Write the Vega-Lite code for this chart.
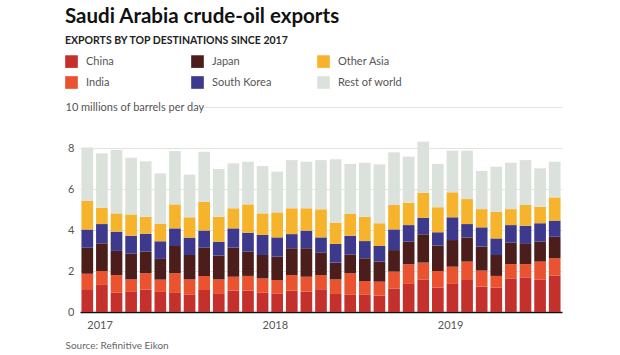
{
  "$schema": "https://vega.github.io/schema/vega-lite/v6.json",
  "width": 482,
  "height": 205,
  "autosize": {"type": "none"},
  "padding": {"left": 80, "top": 107, "right": 58, "bottom": 43},
  "background": "white",
  "title": {
    "text": "Saudi Arabia crude-oil exports",
    "subtitle": "EXPORTS BY TOP DESTINATIONS SINCE 2017",
    "anchor": "start",
    "frame": "group",
    "dx": -15,
    "offset": 9,
    "font": "Lato",
    "fontSize": 20.5,
    "fontWeight": "bold",
    "color": "#111",
    "subtitleFont": "Lato",
    "subtitleFontSize": 10.5,
    "subtitleFontWeight": "bold",
    "subtitleColor": "#222",
    "subtitlePadding": 8
  },
  "data": {
    "values": [
      {"m": "2017-01", "China": 1.07, "India": 0.80, "Japan": 1.27, "South Korea": 0.89, "Other Asia": 1.38, "Rest of world": 2.62},
      {"m": "2017-02", "China": 1.32, "India": 0.68, "Japan": 1.35, "South Korea": 0.94, "Other Asia": 0.80, "Rest of world": 2.65},
      {"m": "2017-03", "China": 0.94, "India": 0.86, "Japan": 1.18, "South Korea": 0.94, "Other Asia": 0.89, "Rest of world": 3.09},
      {"m": "2017-04", "China": 0.98, "India": 0.61, "Japan": 1.27, "South Korea": 0.86, "Other Asia": 1.04, "Rest of world": 2.77},
      {"m": "2017-05", "China": 1.09, "India": 0.80, "Japan": 1.05, "South Korea": 0.88, "Other Asia": 0.83, "Rest of world": 2.70},
      {"m": "2017-06", "China": 0.98, "India": 0.60, "Japan": 1.01, "South Korea": 0.86, "Other Asia": 0.86, "Rest of world": 2.45},
      {"m": "2017-07", "China": 0.93, "India": 0.96, "Japan": 1.33, "South Korea": 0.86, "Other Asia": 1.17, "Rest of world": 2.60},
      {"m": "2017-08", "China": 0.86, "India": 0.73, "Japan": 1.19, "South Korea": 0.85, "Other Asia": 0.99, "Rest of world": 2.08},
      {"m": "2017-09", "China": 1.07, "India": 0.69, "Japan": 1.38, "South Korea": 0.83, "Other Asia": 1.41, "Rest of world": 2.44},
      {"m": "2017-10", "China": 0.88, "India": 0.71, "Japan": 1.16, "South Korea": 0.68, "Other Asia": 1.22, "Rest of world": 2.33},
      {"m": "2017-11", "China": 1.04, "India": 0.68, "Japan": 1.42, "South Korea": 0.94, "Other Asia": 0.98, "Rest of world": 2.19},
      {"m": "2017-12", "China": 1.04, "India": 0.72, "Japan": 1.18, "South Korea": 0.93, "Other Asia": 1.38, "Rest of world": 2.08},
      {"m": "2018-01", "China": 0.94, "India": 0.70, "Japan": 1.14, "South Korea": 0.98, "Other Asia": 1.05, "Rest of world": 2.31},
      {"m": "2018-02", "China": 0.91, "India": 0.65, "Japan": 1.14, "South Korea": 0.94, "Other Asia": 1.22, "Rest of world": 1.99},
      {"m": "2018-03", "China": 1.04, "India": 0.76, "Japan": 1.31, "South Korea": 0.69, "Other Asia": 1.26, "Rest of world": 2.35},
      {"m": "2018-04", "China": 0.99, "India": 0.73, "Japan": 1.39, "South Korea": 0.86, "Other Asia": 1.09, "Rest of world": 2.27},
      {"m": "2018-05", "China": 1.11, "India": 0.69, "Japan": 1.09, "South Korea": 0.75, "Other Asia": 1.37, "Rest of world": 2.40},
      {"m": "2018-06", "China": 0.88, "India": 0.71, "Japan": 0.82, "South Korea": 0.91, "Other Asia": 1.04, "Rest of world": 3.09},
      {"m": "2018-07", "China": 0.86, "India": 1.03, "Japan": 0.92, "South Korea": 0.91, "Other Asia": 1.06, "Rest of world": 2.44},
      {"m": "2018-08", "China": 0.86, "India": 0.65, "Japan": 1.11, "South Korea": 0.84, "Other Asia": 1.19, "Rest of world": 2.63},
      {"m": "2018-09", "China": 0.80, "India": 0.68, "Japan": 0.98, "South Korea": 0.76, "Other Asia": 1.11, "Rest of world": 2.87},
      {"m": "2018-10", "China": 1.15, "India": 0.82, "Japan": 1.05, "South Korea": 1.01, "Other Asia": 1.19, "Rest of world": 2.57},
      {"m": "2018-11", "China": 1.37, "India": 0.96, "Japan": 1.10, "South Korea": 0.81, "Other Asia": 1.09, "Rest of world": 2.25},
      {"m": "2018-12", "China": 1.59, "India": 0.82, "Japan": 1.38, "South Korea": 0.81, "Other Asia": 1.22, "Rest of world": 2.49},
      {"m": "2019-01", "China": 1.19, "India": 0.81, "Japan": 1.24, "South Korea": 0.65, "Other Asia": 1.22, "Rest of world": 2.11},
      {"m": "2019-02", "China": 1.37, "India": 0.84, "Japan": 1.30, "South Korea": 1.11, "Other Asia": 1.22, "Rest of world": 2.03},
      {"m": "2019-03", "China": 1.56, "India": 0.90, "Japan": 1.17, "South Korea": 0.66, "Other Asia": 1.22, "Rest of world": 2.36},
      {"m": "2019-04", "China": 1.24, "India": 0.78, "Japan": 1.17, "South Korea": 0.94, "Other Asia": 0.89, "Rest of world": 1.86},
      {"m": "2019-05", "China": 1.19, "India": 0.57, "Japan": 1.02, "South Korea": 0.81, "Other Asia": 1.30, "Rest of world": 2.20},
      {"m": "2019-06", "China": 1.64, "India": 0.70, "Japan": 1.04, "South Korea": 0.86, "Other Asia": 0.78, "Rest of world": 2.26},
      {"m": "2019-07", "China": 1.69, "India": 0.65, "Japan": 0.98, "South Korea": 0.89, "Other Asia": 1.01, "Rest of world": 2.19},
      {"m": "2019-08", "China": 1.59, "India": 0.87, "Japan": 0.97, "South Korea": 0.90, "Other Asia": 0.81, "Rest of world": 1.87},
      {"m": "2019-09", "China": 1.77, "India": 0.85, "Japan": 1.05, "South Korea": 0.79, "Other Asia": 1.13, "Rest of world": 1.74}
    ]
  },
  "transform": [
    {"fold": ["China", "India", "Japan", "South Korea", "Other Asia", "Rest of world"], "as": ["dest", "v"]},
    {"window": [{"op": "row_number", "as": "k"}], "groupby": ["m"]}
  ],
  "mark": {"type": "bar"},
  "encoding": {
    "x": {
      "field": "m",
      "type": "ordinal",
      "scale": {"paddingInner": 0.2, "paddingOuter": 0.1},
      "axis": {
        "title": "Source: Refinitive Eikon",
        "titleFont": "Lato",
        "titleFontSize": 10,
        "titleFontWeight": "normal",
        "titleColor": "#666",
        "titleAnchor": "start",
        "titleAlign": "left",
        "titleBaseline": "top",
        "titleX": -15,
        "titleY": 28,
        "labelExpr": "substring(datum.value, 5) == '01' ? substring(datum.value, 0, 4) : ''",
        "labelAngle": 0,
        "labelAlign": "left",
        "bandPosition": 0,
        "labelPadding": 7,
        "labelFont": "Lato",
        "labelFontSize": 11,
        "labelColor": "#555",
        "ticks": false,
        "domainColor": "#111",
        "domainWidth": 1.5,
        "labelOverlap": false
      }
    },
    "y": {
      "field": "v",
      "type": "quantitative",
      "stack": "zero",
      "scale": {"domain": [0, 10], "nice": false},
      "axis": {
        "title": null,
        "values": [0, 2, 4, 6, 8, 10],
        "labelExpr": "datum.value == 10 ? '10 millions of barrels per day' : datum.label",
        "labelAlign": {"condition": {"test": "datum.value == 10", "value": "left"}, "value": "right"},
        "labelPadding": {"condition": {"test": "datum.value == 10", "value": 15}, "value": 6},
        "labelFont": "Lato",
        "labelFontSize": 11,
        "labelColor": "#555",
        "ticks": false,
        "domain": false,
        "gridColor": {"condition": {"test": "datum.value == 0", "value": "transparent"}, "value": "#e2e2e2"},
        "gridDash": {"condition": {"test": "datum.value == 10", "value": [0, 122, 1000, 0]}, "value": []},
        "gridWidth": 1
      }
    },
    "order": {"field": "k", "type": "quantitative", "sort": "ascending"},
    "color": {
      "field": "dest",
      "type": "nominal",
      "scale": {
        "domain": ["China", "India", "Japan", "South Korea", "Other Asia", "Rest of world"],
        "range": ["#c4302b", "#ea5230", "#4b1e1b", "#3d3a8e", "#f6b42c", "#dbe2dc"]
      },
      "legend": {
        "title": null,
        "orient": "none",
        "legendX": -15,
        "legendY": -52,
        "columns": 3,
        "gridAlign": "all",
        "columnPadding": 40,
        "rowPadding": 8,
        "values": ["China", "India", "Japan", "South Korea", "Other Asia", "Rest of world"],
        "symbolType": "square",
        "symbolSize": 160,
        "symbolStrokeWidth": 0,
        "symbolOpacity": 1,
        "labelFont": "Lato",
        "labelFontSize": 11,
        "labelColor": "#555",
        "labelOffset": 8
      }
    }
  },
  "config": {
    "view": {"stroke": null},
    "bar": {"stroke": null}
  }
}
